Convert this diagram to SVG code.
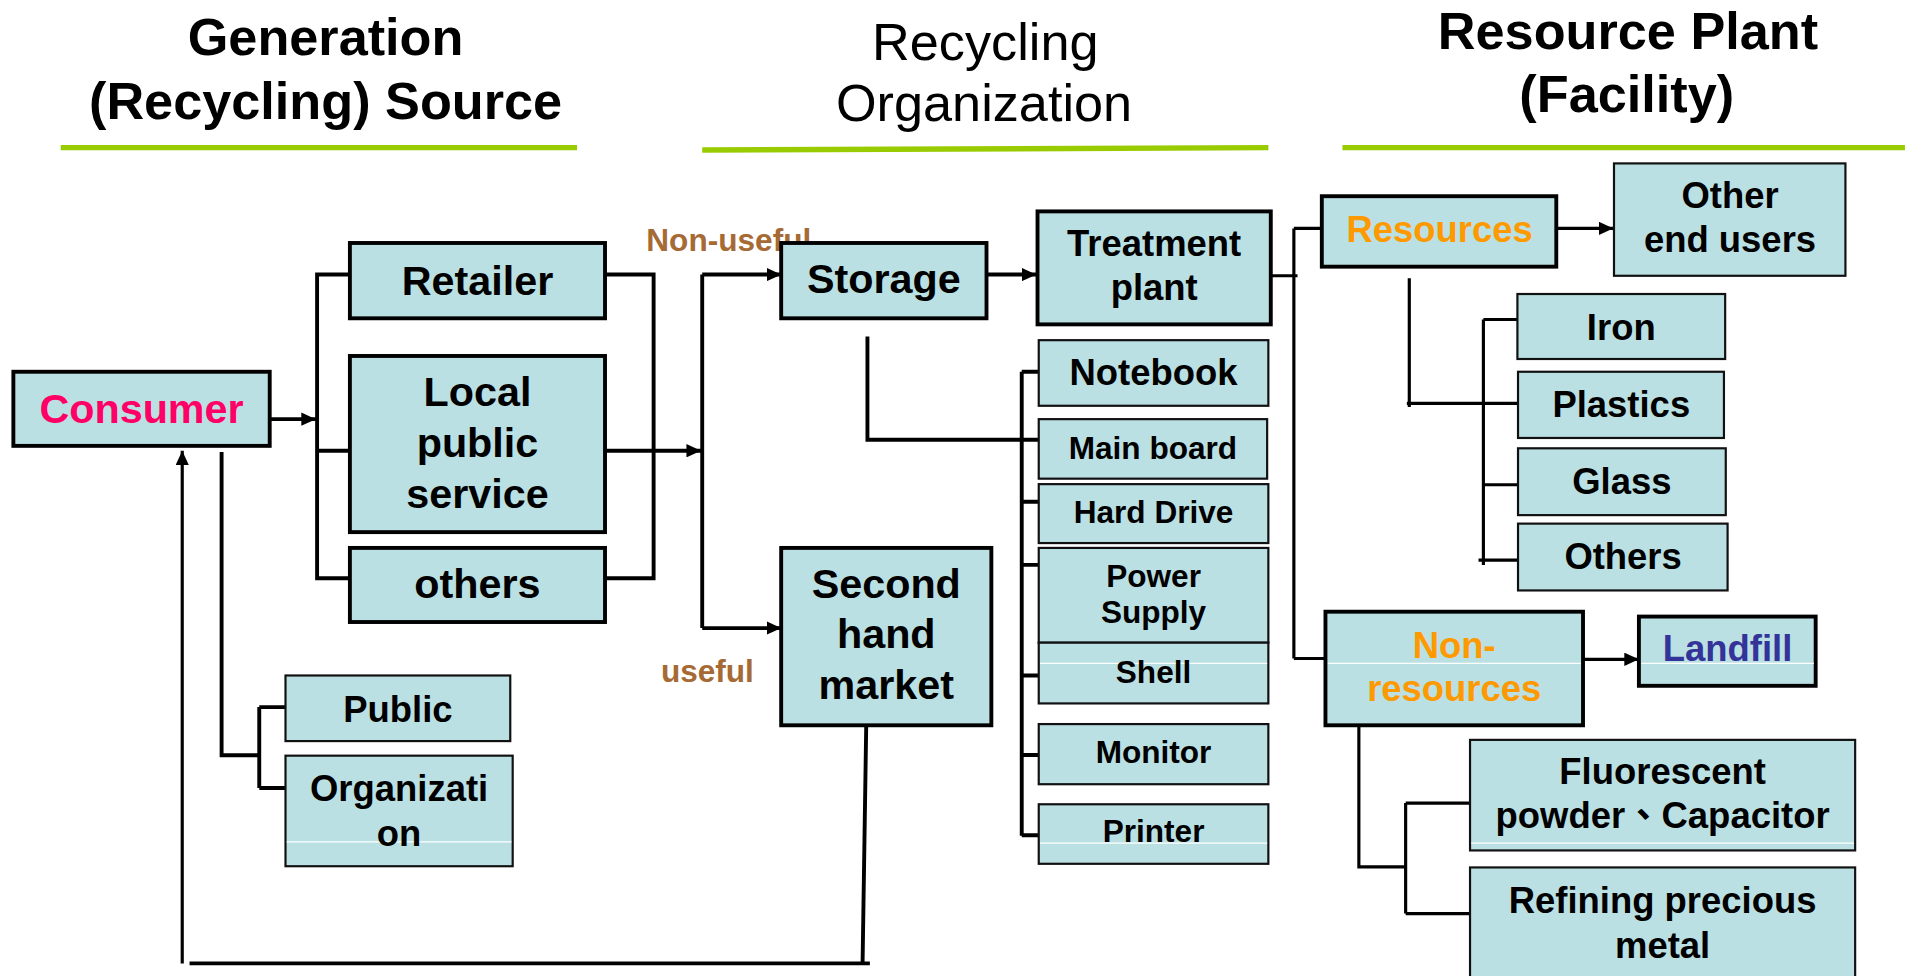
<svg xmlns="http://www.w3.org/2000/svg" width="1905" height="976" viewBox="0 0 1905 976">
<defs>
<marker id="arr" markerUnits="userSpaceOnUse" markerWidth="12" markerHeight="11" refX="12" refY="5.5" orient="auto"><path d="M0,0 L12,5.5 L0,11 z" fill="#000"/></marker>
<style>
.box{fill:#BAE0E3;stroke:#000;stroke-width:3.2}
.tbox{fill:#BAE0E3;stroke:#111;stroke-width:1.8}
.t{font-family:"Liberation Sans",Arial,"Noto Sans CJK TC",sans-serif;font-weight:bold;text-anchor:middle;fill:#000}
.f34{font-size:34px}.f30{font-size:30px}.f26{font-size:26px}
.h{font-family:"Liberation Sans",Arial,sans-serif;font-size:43px;text-anchor:middle;fill:#000}
.b{font-weight:bold}
.line{fill:none;stroke:#000;stroke-width:3.2}
.thin{fill:none;stroke:#000;stroke-width:2.6}
.green{stroke:#99CC00;stroke-width:4.5}
.lbl{font-family:"Liberation Sans",Arial,sans-serif;font-weight:bold;font-size:26px;fill:#A66A35}
.wl{stroke:#fff;stroke-width:1}
</style>
</defs>
<rect width="1905" height="976" fill="#fff"/>
<g transform="scale(1.2149)">
<g id="headers">
<text class="h b" x="268" y="45">Generation</text>
<text class="h b" x="268" y="98">(Recycling) Source</text>
<text class="h" x="811" y="49">Recycling</text>
<text class="h" x="810" y="100">Organization</text>
<text class="h b" x="1340" y="40">Resource Plant</text>
<text class="h b" x="1339" y="92">(Facility)</text>
<line class="green" x1="50" y1="121.5" x2="475" y2="121.5"/>
<line class="green" x1="578" y1="123.5" x2="1044" y2="121.5"/>
<line class="green" x1="1105" y1="121.5" x2="1568" y2="121.5"/>
</g>
<g id="labels">
<text class="lbl" x="532" y="207">Non-useful</text>
<text class="lbl" x="544" y="561">useful</text>
</g>
<g id="connectors">
<path class="line" d="M223,345 H260" marker-end="url(#arr)"/>
<path class="line" d="M294,226 H261 V476 H294 M261,371 H294"/>
<path class="line" d="M499,226 H538 V476 H499"/>
<path class="line" d="M499,371 H577" marker-end="url(#arr)"/>
<path class="line" d="M578,226 V517"/>
<path class="line" d="M578,226 H643" marker-end="url(#arr)"/>
<path class="line" d="M578,517 H643" marker-end="url(#arr)"/>
<path class="line" d="M812,226 H853" marker-end="url(#arr)"/>
<path class="line" d="M714,277 V362 H855"/>
<path class="line" d="M841,306 V688 M841,306 H855 M841,413 H855 M841,465 H855 M841,556 H855 M841,621.5 H855 M841,687.5 H855"/>
<path class="thin" d="M1046,227 H1068 M1065,188 V542 M1065,188 H1088 M1065,542 H1091"/>
<path class="thin" d="M1281,188 H1328" marker-end="url(#arr)"/>
<path class="thin" d="M1160,229 V335 M1158,332 H1249"/>
<path class="thin" d="M1221,263 V465 M1221,263 H1249 M1221,399 H1249 M1217,461 H1249"/>
<path class="thin" d="M1303,542.7 H1349" marker-end="url(#arr)"/>
<path class="thin" d="M1118.5,597 V713.6 H1157 M1157,661 V752 M1157,661 H1210 M1157,752 H1210"/>
<path class="line" d="M182.4,372 V621.6 H213.4 M213.4,582 V648.6 M213.4,582 H235 M213.4,648.6 H235"/>
<path class="line" d="M713,597 L710,793 M156,793 H716"/>
<path class="thin" d="M150,793 V371" marker-end="url(#arr)"/>
</g>
<g id="consumer"><rect class="box" x="11" y="306" width="211" height="61"/><text class="t f34" x="116.5" y="348" fill="#FF0066" style="fill:#FF0066">Consumer</text></g>
<g id="retailer"><rect class="box" x="288" y="200" width="210" height="62"/><text class="t f34" x="393" y="243">Retailer</text></g>
<g id="local"><rect class="box" x="288" y="293" width="210" height="145"/><text class="t f34" x="393" y="334">Local</text><text class="t f34" x="393" y="376">public</text><text class="t f34" x="393" y="418">service</text></g>
<g id="others1"><rect class="box" x="288" y="451" width="210" height="61"/><text class="t f34" x="393" y="492">others</text></g>
<g id="public"><rect class="tbox" x="235" y="556" width="185" height="54"/><text class="t f30" x="327.5" y="594">Public</text></g>
<g id="organization"><rect class="tbox" x="235" y="622" width="187" height="91"/><line class="wl" x1="236" y1="693" x2="421" y2="693"/><text class="t f30" x="328.5" y="659">Organizati</text><text class="t f30" x="328.5" y="696">on</text></g>
<g id="storage"><rect class="box" x="643" y="200" width="169" height="62"/><text class="t f34" x="727.5" y="241.5">Storage</text></g>
<g id="secondhand"><rect class="box" x="643" y="451" width="173" height="146"/><text class="t f34" x="729.5" y="492">Second</text><text class="t f34" x="729.5" y="533.5">hand</text><text class="t f34" x="729.5" y="575.5">market</text></g>
<g id="treatment"><rect class="box" x="854" y="174" width="192" height="93"/><text class="t f30" x="950" y="211">Treatment</text><text class="t f30" x="950" y="247">plant</text></g>
<g id="notebook"><rect class="tbox" x="855" y="280" width="189" height="54"/><text class="t f30" x="949.5" y="317">Notebook</text></g>
<g id="mainboard"><rect class="tbox" x="855" y="345" width="188" height="49"/><text class="t f26" x="949" y="378">Main board</text></g>
<g id="harddrive"><rect class="tbox" x="855" y="398.5" width="189" height="48.5"/><text class="t f26" x="949.5" y="430.7">Hard Drive</text></g>
<g id="power"><rect class="tbox" x="855" y="451" width="189" height="78"/><text class="t f26" x="949.5" y="483">Power</text><text class="t f26" x="949.5" y="513">Supply</text></g>
<g id="shell"><rect class="tbox" x="855" y="529" width="189" height="50"/><line class="wl" x1="856" y1="546" x2="1043" y2="546"/><text class="t f26" x="949.5" y="562">Shell</text></g>
<g id="monitor"><rect class="tbox" x="855" y="596" width="189" height="49.5"/><text class="t f26" x="949.5" y="628">Monitor</text></g>
<g id="printer"><rect class="tbox" x="855" y="662" width="189" height="49"/><line class="wl" x1="856" y1="694" x2="1043" y2="694"/><text class="t f26" x="949.5" y="693">Printer</text></g>
<g id="resources"><rect class="box" x="1088" y="161.5" width="193" height="58"/><text class="t f30" x="1185" y="199" style="fill:#FF9900">Resources</text></g>
<g id="otherend"><rect class="tbox" x="1328.5" y="134.5" width="190.5" height="92.5"/><text class="t f30" x="1424" y="171.5">Other</text><text class="t f30" x="1424" y="207.6">end users</text></g>
<g id="iron"><rect class="tbox" x="1249" y="242" width="171" height="53.5"/><text class="t f30" x="1334.5" y="279.5">Iron</text></g>
<g id="plastics"><rect class="tbox" x="1249.5" y="306" width="169.5" height="54.5"/><text class="t f30" x="1334.5" y="343">Plastics</text></g>
<g id="glass"><rect class="tbox" x="1249.5" y="369" width="171" height="55"/><text class="t f30" x="1335" y="406.6">Glass</text></g>
<g id="others2"><rect class="tbox" x="1249.5" y="431" width="172.5" height="55"/><text class="t f30" x="1336" y="468.5">Others</text></g>
<g id="nonresources"><rect class="box" x="1091" y="503.5" width="212" height="93.5"/><line class="wl" x1="1093" y1="546" x2="1301" y2="546"/><text class="t f30" x="1197" y="541.6" style="fill:#FF9900">Non-</text><text class="t f30" x="1197" y="577" style="fill:#FF9900">resources</text></g>
<g id="landfill"><rect class="box" x="1349" y="507.5" width="145.5" height="57"/><line class="wl" x1="1351" y1="546" x2="1493" y2="546"/><text class="t f30" x="1422" y="544" style="fill:#333399">Landfill</text></g>
<g id="fluorescent"><rect class="tbox" x="1210" y="609" width="317" height="91"/><line class="wl" x1="1211" y1="694" x2="1526" y2="694"/><text class="t f30" x="1368.5" y="645.5">Fluorescent</text><text class="t f30" x="1368.5" y="681.5">powder、Capacitor</text></g>
<g id="refining"><rect class="tbox" x="1210" y="714" width="317" height="100"/><text class="t f30" x="1368.5" y="751.6">Refining precious</text><text class="t f30" x="1368.5" y="788.6">metal</text></g>
</g>
</svg>
